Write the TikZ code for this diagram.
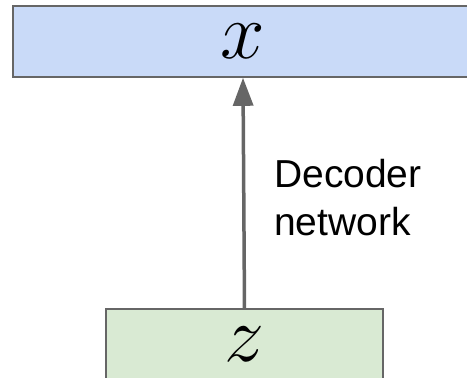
\documentclass[tikz,border=0pt]{standalone}
\usepackage{fix-cm}
\usepackage{fontspec}
\setmainfont{Liberation Sans}
\usetikzlibrary{arrows.meta}
\definecolor{boxblue}{HTML}{C9DAF8}
\definecolor{boxgreen}{HTML}{D9EAD3}
\definecolor{edgegray}{HTML}{666666}

\begin{document}
\begin{tikzpicture}[x=1pt, y=1pt,
  layer/.style={draw=edgegray, line width=1.6pt, minimum height=71pt, inner sep=0pt, font=\fontsize{80}{90}\selectfont},
  flow/.style={draw=edgegray, line width=3.5pt, -{Triangle[width=20pt, length=28pt]}}]
% frame
\path[use as bounding box, clip] (0, 0) rectangle (467, 378);

% layers
\node[layer, fill=boxblue, minimum width=460pt] (xlayer) at (243, 336.5) {$x$};
\node[layer, fill=boxgreen, minimum width=277pt] (zlayer) at (244.5, 33.5) {$z$};

% decoder
\draw[flow] (zlayer.north) -- (xlayer.south);
\node[anchor=north west, inner sep=0pt, align=left, font=\fontsize{39}{48}\selectfont] (decoder) at (274, 219) {Decoder\\network};

\end{tikzpicture}
\end{document}
